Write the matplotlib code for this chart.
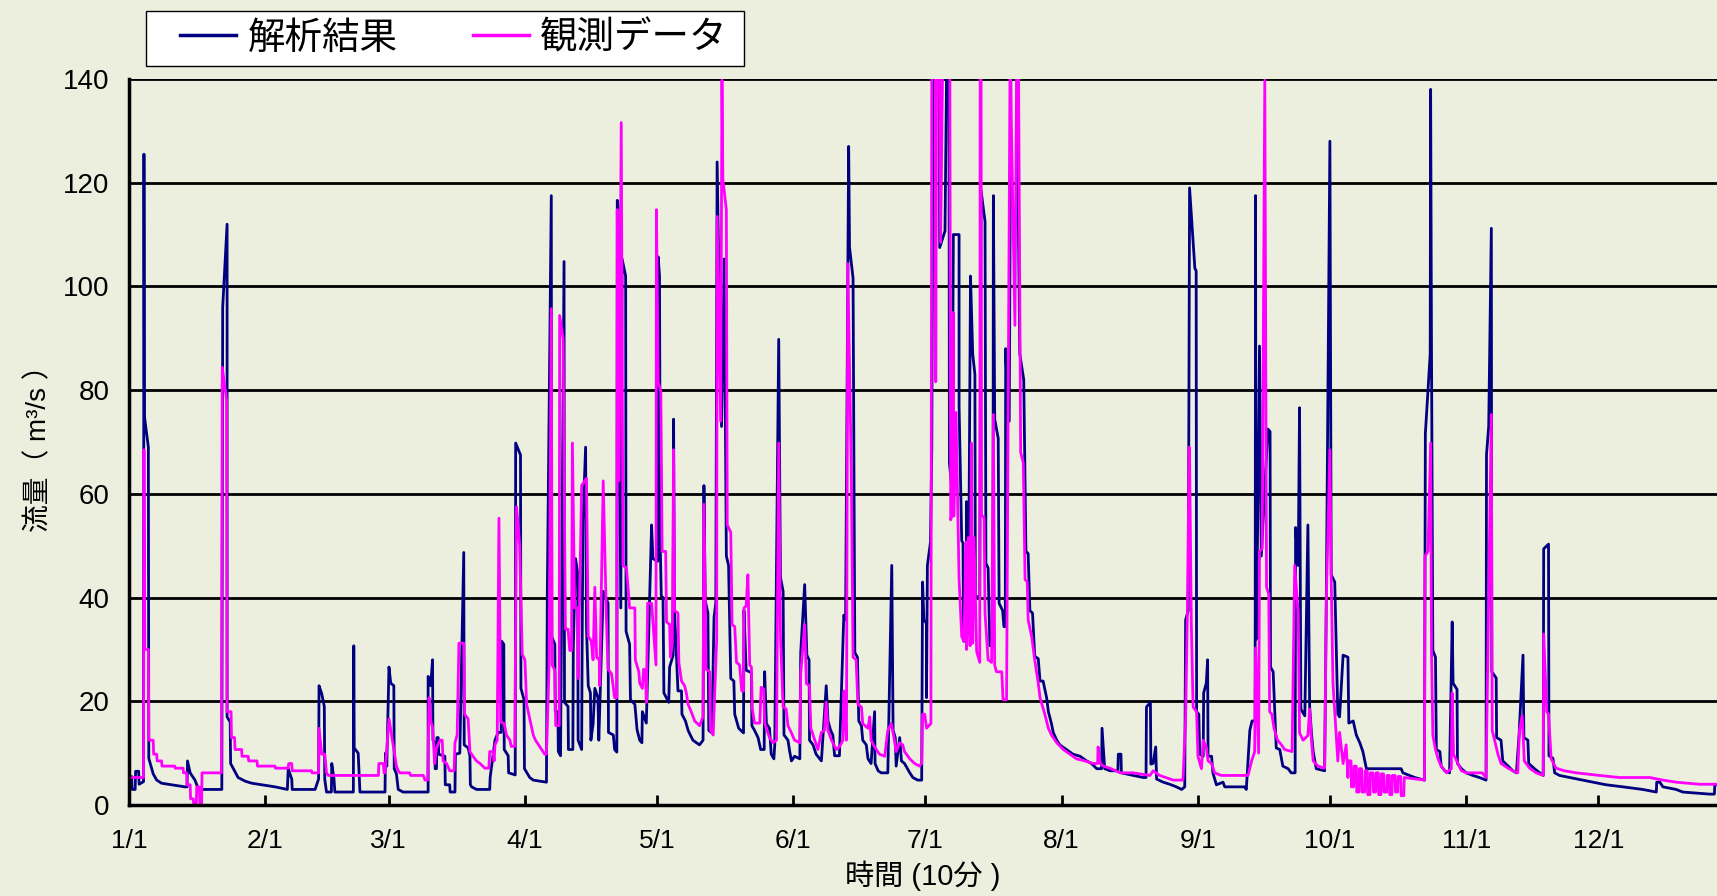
import numpy as np
import matplotlib
matplotlib.use("Agg")
import matplotlib.pyplot as plt
from matplotlib.lines import Line2D
from matplotlib.patches import Rectangle

plt.rcParams['font.family'] = ['Liberation Sans', 'Noto Sans CJK JP', 'DejaVu Sans']

# 流量 (m3/s) at day-of-year breakpoints, 10-minute records thinned to the step changes
sim_q1 = [(0.0, 5.0), (0.6, 5.5), (0.7, 3.0), (1.4, 3.0), (1.5, 6.5), (2.2, 6.5), (2.3, 4.0), (3.3, 4.5),
          (3.4, 125.5), (3.5, 75.0), (4.4, 69.0), (4.5, 9.0), (5.5, 6.0), (6.3, 4.8), (7.4, 4.2), (12.7, 3.5),
          (13.2, 3.5), (13.3, 8.5), (13.9, 6.2), (15.0, 4.8), (15.8, 3.0), (21.1, 3.0), (21.3, 96.0),
          (22.3, 112.0), (22.3, 17.0), (23.0, 16.0), (23.1, 8.0), (24.8, 5.3), (26.4, 4.6), (27.9, 4.2),
          (33.2, 3.5), (36.0, 3.0), (36.2, 7.0), (37.0, 5.0), (37.1, 3.0), (42.3, 3.0), (43.1, 5.0),
          (43.2, 23.0), (43.8, 21.5), (44.4, 19.0), (44.5, 5.0), (44.9, 2.5), (46.0, 2.5), (46.1, 8.0),
          (46.6, 5.0), (46.8, 2.5), (51.0, 2.5), (51.1, 30.7), (51.2, 11.0), (52.1, 10.0), (52.5, 2.5),
          (58.2, 2.5), (58.3, 10.0), (58.6, 7.5), (59.1, 26.6), (59.5, 23.5), (60.2, 23.0), (60.3, 7.0),
          (60.8, 6.0), (61.2, 3.0), (62.3, 2.5), (68.0, 2.5), (68.0, 24.8), (68.6, 23.0), (69.0, 28.0),
          (69.1, 12.5), (69.5, 12.0), (69.6, 7.0), (69.9, 7.0), (70.0, 13.0), (70.3, 13.0), (70.4, 9.8),
          (71.8, 9.4), (71.9, 3.9), (72.9, 3.9), (73.0, 2.5), (74.1, 2.5), (74.2, 9.8), (75.2, 10.0),
          (76.1, 48.7), (76.2, 11.6), (77.1, 11.0), (77.5, 9.5), (77.6, 3.9), (77.9, 3.5), (79.0, 3.0),
          (82.0, 3.0), (82.1, 5.3), (83.2, 12.5), (83.9, 14.0), (84.6, 14.0), (84.7, 31.6), (85.2, 31.0),
          (85.3, 10.7), (86.2, 9.5), (86.3, 6.2), (87.8, 5.8), (87.9, 69.8), (89.0, 67.5), (89.1, 22.5),
          (89.8, 20.3), (89.9, 7.0)]
sim_q2 = [(91.1, 5.3), (91.9, 4.8), (94.9, 4.4), (95.1, 41.6), (96.0, 117.5), (96.1, 32.5), (96.8, 31.0),
          (96.9, 18.0), (97.5, 18.0), (97.6, 10.3), (98.1, 9.5), (98.9, 104.8), (99.0, 19.8), (99.8, 19.0),
          (99.9, 10.7), (100.9, 10.7), (101.0, 30.0), (101.5, 47.5), (102.0, 44.8), (102.1, 12.5),
          (102.9, 10.7), (103.0, 29.0), (103.2, 54.8), (103.8, 69.0), (104.0, 34.4), (104.4, 23.0),
          (104.9, 21.6), (105.0, 12.5), (105.5, 15.6), (105.9, 22.5), (106.6, 20.7), (106.8, 12.5),
          (107.8, 41.2), (108.9, 38.9), (109.0, 14.0), (110.1, 13.5), (110.4, 10.7), (110.9, 10.2),
          (111.0, 116.6), (111.2, 115.5), (111.8, 38.0), (112.1, 105.3), (112.9, 102.0), (113.0, 33.5),
          (113.8, 31.0), (114.0, 20.3), (115.0, 19.4), (115.5, 14.5), (116.1, 12.5), (116.6, 12.0),
          (116.7, 18.0), (117.6, 15.8), (118.8, 54.0), (119.1, 47.5), (120.2, 47.0), (120.3, 105.7),
          (120.6, 102.0), (120.8, 48.9), (121.0, 40.3), (121.4, 40.0), (121.6, 21.6), (122.7, 19.8),
          (122.9, 26.6), (123.7, 28.9), (123.8, 74.4), (124.0, 37.5), (124.8, 22.0), (125.6, 22.0),
          (125.7, 17.5), (126.5, 16.2), (127.1, 14.4), (127.6, 13.5), (128.2, 12.5), (129.0, 12.0),
          (129.7, 11.6), (130.5, 12.5), (130.7, 61.6), (131.0, 39.4), (131.6, 37.0), (131.8, 14.4),
          (132.5, 13.9), (133.0, 36.2), (133.4, 39.0), (133.7, 124.0), (134.3, 90.8), (134.7, 73.0),
          (135.3, 105.3), (135.8, 48.0), (136.3, 46.2), (136.8, 24.4), (137.5, 23.9), (137.7, 17.5),
          (138.6, 14.8), (139.7, 13.9), (139.8, 37.5), (140.3, 26.0), (141.5, 25.5), (141.6, 15.3),
          (142.2, 14.4), (143.0, 13.0), (143.6, 10.7), (144.4, 10.7), (144.5, 25.7), (144.9, 15.7),
          (145.6, 14.8), (146.0, 9.8), (146.6, 8.9), (146.8, 11.6), (147.7, 89.8), (148.1, 43.9),
          (148.7, 41.2), (148.9, 13.5), (149.8, 12.5), (150.2, 10.3), (150.6, 8.5), (151.3, 9.4),
          (152.5, 8.9), (152.7, 29.4), (153.6, 42.5), (154.1, 28.9), (154.6, 28.0), (154.7, 12.5),
          (155.5, 11.6), (156.2, 9.8), (157.4, 8.5), (158.5, 23.0), (158.9, 16.2), (159.5, 14.4),
          (160.0, 13.5), (160.4, 9.5), (161.5, 9.5), (162.5, 36.6), (162.9, 35.7), (163.6, 127.0),
          (163.8, 107.5), (164.6, 101.6), (165.0, 29.4), (165.6, 28.5), (165.9, 16.2), (166.5, 15.3),
          (166.8, 12.5), (167.6, 11.6), (168.0, 8.9), (168.7, 8.0), (169.5, 18.0), (169.6, 8.0),
          (170.3, 6.6), (171.0, 6.2), (172.5, 6.2), (173.4, 46.2), (173.7, 14.4), (174.2, 13.0),
          (174.4, 7.5), (175.2, 13.0), (175.6, 8.5), (176.3, 8.0), (177.5, 6.2), (178.2, 5.3),
          (179.3, 4.8), (180.2, 4.8)]
sim_q3 = [(180.4, 43.0), (180.7, 35.7), (181.3, 35.0), (181.3, 20.7), (181.5, 46.2), (182.2, 50.7),
          (182.5, 69.0), (182.8, 145.0), (184.2, 145.0), (184.3, 107.5), (185.5, 110.7), (185.9, 145.0),
          (186.4, 145.0), (186.5, 66.0), (187.1, 60.7), (187.4, 110.0), (188.7, 110.0), (188.7, 77.0),
          (189.3, 51.0), (189.6, 50.5), (189.7, 31.6), (190.3, 31.6), (190.4, 58.5), (190.8, 33.0),
          (191.3, 102.0), (191.8, 87.0), (192.3, 83.0), (192.4, 40.3), (193.4, 40.0), (193.7, 118.5),
          (194.6, 112.5), (194.8, 46.6), (195.3, 45.7), (195.7, 30.7), (196.4, 30.7), (196.5, 117.5),
          (196.8, 74.4), (197.6, 70.7), (197.8, 38.9), (198.6, 37.5), (198.9, 34.4), (199.2, 34.4),
          (199.3, 88.0), (199.9, 74.0), (200.1, 74.0), (200.5, 145.0), (201.8, 145.0), (202.5, 87.0),
          (203.4, 82.0), (203.9, 48.9), (204.4, 48.5), (204.8, 37.5), (205.4, 37.0), (205.9, 28.7),
          (206.7, 28.2), (207.1, 23.9), (207.8, 23.9), (208.6, 20.7), (209.0, 18.0), (209.7, 15.7),
          (210.1, 14.0), (210.9, 12.5), (211.6, 11.6), (213.1, 10.7), (214.6, 9.8), (216.2, 9.4),
          (217.7, 8.5), (218.8, 8.0), (220.0, 7.0), (221.1, 7.0), (221.2, 14.8), (221.8, 7.0),
          (223.0, 6.6), (224.8, 6.6), (224.9, 9.8), (225.5, 9.8), (225.6, 6.2), (228.3, 5.7),
          (230.6, 5.3), (231.2, 5.3), (231.3, 18.9), (232.2, 19.8), (232.3, 7.9), (232.8, 8.0),
          (233.4, 11.2), (233.6, 5.0), (235.1, 4.4), (236.6, 4.0), (238.1, 3.5), (239.3, 3.0),
          (240.0, 3.5), (240.2, 35.7), (240.8, 37.5), (241.1, 119.0), (242.3, 103.5), (242.6, 103.0),
          (242.7, 18.0), (243.2, 17.5), (243.4, 9.8), (244.2, 9.4), (244.3, 21.6), (244.9, 23.5),
          (245.2, 28.0), (245.3, 9.4), (246.1, 9.4), (246.4, 6.2), (247.2, 3.9), (248.7, 4.4),
          (249.1, 3.5), (253.6, 3.5), (254.0, 3.0), (254.8, 14.4), (255.3, 16.2), (256.0, 16.2),
          (256.1, 117.5), (256.2, 32.0), (256.3, 32.0), (257.0, 88.5), (257.4, 48.0), (258.9, 72.5),
          (259.4, 72.0), (259.5, 26.6), (260.1, 25.7), (260.8, 11.0), (261.6, 10.7), (262.3, 7.5),
          (263.5, 7.0), (264.2, 6.2), (265.1, 6.2), (265.2, 53.5), (265.8, 46.2), (266.1, 76.6),
          (266.4, 18.5), (267.3, 17.2), (268.0, 54.0), (268.4, 18.9), (268.8, 14.0), (269.2, 10.3),
          (269.9, 7.0), (271.8, 6.6), (272.2, 41.2)]
sim_q4 = [(273.0, 128.0), (273.3, 44.4), (274.1, 43.0), (274.8, 17.5), (275.2, 17.0), (276.0, 28.9),
          (277.1, 28.5), (277.3, 15.8), (278.3, 16.2), (279.0, 13.5), (279.8, 12.0), (280.5, 10.3),
          (281.3, 7.0), (289.2, 7.0), (289.6, 6.2), (292.3, 5.3), (294.5, 4.8), (294.7, 71.6),
          (295.8, 87.0), (295.9, 138.0), (296.1, 87.0), (296.4, 29.8), (297.0, 28.5), (297.2, 10.7),
          (298.0, 10.3), (298.3, 7.5), (299.1, 6.6), (300.2, 6.2), (300.8, 35.3), (301.0, 23.5),
          (301.9, 22.3), (302.0, 8.0), (302.9, 7.0), (304.0, 6.2), (305.5, 5.7), (307.0, 5.3),
          (308.5, 4.8), (308.6, 67.5), (309.1, 73.0), (309.7, 111.2), (309.8, 25.7), (310.8, 24.5),
          (310.9, 13.0), (311.9, 12.5), (312.3, 8.5), (313.5, 7.5), (314.6, 6.6), (315.4, 6.2),
          (316.0, 13.5), (316.9, 28.9), (317.1, 13.0), (318.0, 12.5), (318.2, 8.0), (319.5, 7.0),
          (320.7, 6.2), (321.5, 5.7), (321.6, 49.4), (322.7, 50.3), (322.8, 9.5), (323.7, 9.0),
          (324.1, 6.2), (325.2, 5.7), (327.5, 5.3), (330.5, 4.8), (332.8, 4.4), (335.8, 3.9),
          (339.6, 3.5), (344.1, 3.0), (347.2, 2.5), (347.3, 4.4), (348.0, 4.4), (348.7, 3.5),
          (351.7, 3.0), (353.2, 2.5), (359.3, 2.1), (360.4, 2.1), (360.5, 3.9), (362.0, 3.9)]

obs_q1 = [(0.0, 5.3), (3.3, 5.3), (3.4, 68.5), (3.6, 30.0), (4.4, 30.0), (4.5, 12.5), (5.5, 12.5),
          (5.6, 9.8), (6.3, 9.8), (6.4, 8.5), (7.4, 8.5), (7.5, 7.5), (10.4, 7.5), (10.5, 7.1), (12.3, 7.1),
          (12.4, 6.2), (13.1, 6.2), (13.2, 3.9), (13.9, 3.9), (14.0, 1.2), (14.6, 1.2), (14.7, 0.3),
          (15.3, 0.3), (15.4, 3.5), (16.0, 3.5), (16.1, 0.0), (16.5, 0.0), (16.6, 6.2), (21.0, 6.2),
          (21.2, 84.4), (22.2, 78.0), (22.3, 18.0), (23.2, 18.0), (23.3, 13.0), (24.0, 13.0), (24.1, 10.7),
          (25.6, 10.7), (25.7, 9.4), (27.1, 9.4), (27.2, 8.5), (29.1, 8.5), (29.2, 7.5), (33.2, 7.5),
          (33.3, 7.1), (36.2, 7.1), (36.3, 8.0), (37.0, 8.0), (37.1, 6.6), (41.5, 6.6), (41.6, 6.2),
          (43.1, 6.2), (43.2, 14.8), (43.8, 9.8), (44.5, 9.8), (44.9, 6.2), (45.3, 5.7), (56.7, 5.7),
          (56.8, 8.0), (57.8, 8.0), (58.0, 6.2), (58.2, 6.2), (59.1, 16.6), (59.7, 13.5), (60.2, 10.7),
          (60.8, 7.5), (61.2, 6.6), (61.6, 6.2), (63.8, 6.2), (64.0, 5.7), (66.9, 5.7), (67.3, 4.8),
          (67.9, 4.8), (68.2, 20.7), (68.6, 16.2), (69.0, 15.0), (69.5, 8.0), (69.9, 11.0), (70.7, 12.5),
          (71.2, 12.5), (71.4, 8.5), (72.2, 8.0), (72.9, 6.6), (73.9, 6.6), (74.1, 12.0), (74.6, 13.5),
          (75.0, 31.2), (76.1, 31.2), (76.3, 17.5), (77.1, 16.6), (77.5, 10.3), (78.2, 9.4), (79.0, 8.5),
          (79.8, 8.0), (80.9, 7.1), (81.8, 7.1), (82.0, 10.3), (82.8, 10.3), (83.0, 8.5), (83.2, 11.6),
          (83.7, 12.5), (84.1, 55.3), (84.5, 16.0), (85.3, 15.7), (85.8, 13.5), (86.6, 12.5),
          (86.9, 11.3), (87.7, 11.3), (88.1, 57.5), (88.8, 50.3), (89.4, 29.0), (90.0, 28.0)]
obs_q2 = [(90.4, 19.4), (91.1, 16.6), (91.9, 13.5), (92.4, 12.5), (93.8, 10.7), (94.5, 9.8), (94.9, 9.8),
          (95.5, 27.0), (96.0, 95.7), (96.2, 27.0), (96.8, 26.0), (97.0, 15.3), (97.8, 15.3), (97.9, 94.4),
          (98.7, 89.8), (99.2, 33.9), (99.8, 33.9), (100.2, 29.8), (100.6, 29.8), (100.8, 69.8),
          (101.3, 38.0), (102.0, 38.0), (102.1, 24.4), (102.9, 61.6), (104.0, 63.0), (104.4, 32.5),
          (105.1, 31.6), (105.5, 28.0), (105.9, 42.0), (106.3, 28.5), (106.9, 28.0), (107.0, 23.0),
          (107.8, 62.5), (108.5, 37.0), (108.9, 26.2), (109.7, 25.3), (110.4, 20.7), (110.9, 20.7),
          (111.0, 114.8), (111.4, 62.5), (111.9, 131.6), (112.3, 46.2), (113.1, 45.7), (113.8, 38.0),
          (115.0, 38.0), (115.1, 28.0), (115.9, 25.7), (116.1, 23.5), (116.7, 22.5), (117.0, 26.2),
          (117.4, 25.7), (117.6, 19.8), (117.9, 38.9), (118.8, 38.9), (119.8, 27.0), (119.9, 114.8),
          (120.3, 81.6), (120.9, 79.8), (121.2, 48.9), (122.0, 48.9), (122.2, 35.3), (122.9, 34.8),
          (123.1, 28.5), (123.5, 31.0), (123.8, 68.5), (124.0, 37.5), (124.8, 37.0), (125.0, 27.5),
          (125.6, 23.9), (126.3, 23.0), (126.7, 21.6), (127.1, 19.4), (127.8, 18.0), (128.6, 16.2),
          (129.7, 15.3), (130.5, 17.0), (130.7, 58.0), (131.2, 26.2), (132.0, 25.7), (132.2, 14.4),
          (132.8, 13.5), (133.6, 32.0), (133.7, 113.5), (134.5, 74.0), (134.8, 139.8), (135.0, 120.7),
          (135.8, 114.8), (136.0, 54.0), (136.8, 52.6), (137.1, 34.8), (137.7, 34.4), (138.1, 27.5),
          (138.8, 27.0), (139.3, 22.0), (139.7, 22.0), (139.8, 38.0), (140.3, 38.4), (140.7, 44.4),
          (141.1, 27.0), (141.5, 26.6), (141.7, 18.5), (142.2, 15.8), (143.4, 15.8), (143.7, 22.7),
          (144.3, 22.3), (144.5, 15.8), (145.6, 13.0), (146.4, 12.0), (147.2, 12.5), (147.7, 69.8),
          (148.1, 32.5), (148.7, 18.9), (149.4, 18.5), (149.8, 15.3), (150.6, 13.9), (151.3, 12.5),
          (152.5, 12.0), (152.7, 25.3), (153.6, 34.8), (154.0, 23.4), (154.7, 23.0), (155.0, 14.8),
          (155.9, 12.5), (156.6, 10.7), (157.4, 14.0), (158.1, 14.4), (158.5, 19.8), (158.9, 14.4),
          (159.7, 12.5), (160.8, 10.7), (161.5, 11.2), (162.3, 12.5), (162.5, 22.0), (163.1, 12.5),
          (163.4, 104.4), (164.2, 64.4), (164.6, 28.5), (165.3, 28.0), (165.7, 19.4), (166.5, 18.9),
          (166.8, 15.7), (168.0, 14.8), (168.4, 17.0), (168.7, 12.5), (169.5, 11.2), (170.6, 9.8),
          (171.8, 9.4), (172.5, 14.4), (173.3, 15.7), (173.9, 13.0), (174.4, 10.3), (175.2, 12.0),
          (175.9, 11.6), (176.3, 10.3), (177.5, 8.9), (178.6, 8.0), (179.7, 7.5), (180.2, 8.0)]
obs_q3 = [(180.4, 17.5), (180.9, 17.5), (181.3, 14.8), (182.3, 15.7), (182.5, 145.0), (183.3, 145.0),
          (183.4, 81.6), (183.6, 145.0), (184.2, 145.0), (184.5, 108.5), (185.0, 145.0), (186.6, 145.0),
          (186.8, 55.0), (187.0, 55.7), (187.4, 95.0), (187.5, 55.7), (188.0, 75.7), (188.7, 43.5),
          (189.3, 32.5), (189.8, 31.6), (190.3, 50.7), (190.4, 30.0), (190.8, 51.6), (191.2, 30.7),
          (191.5, 69.8), (191.8, 31.2), (192.1, 51.6), (192.7, 29.6), (193.4, 27.5), (193.5, 145.0),
          (193.7, 145.0), (193.8, 56.0), (194.4, 55.3), (194.6, 37.0), (195.3, 28.0), (196.1, 27.5),
          (196.5, 75.3), (196.8, 27.0), (197.2, 25.7), (198.4, 25.7), (198.7, 20.3), (199.5, 20.3),
          (200.3, 145.0), (201.4, 92.5), (201.8, 145.0), (202.2, 145.0), (202.7, 68.0), (203.3, 66.0),
          (203.7, 43.5), (204.2, 43.0), (204.4, 35.7), (205.2, 32.5), (205.9, 28.0), (206.7, 23.5),
          (207.1, 20.7), (208.2, 17.5), (209.0, 14.8), (209.7, 13.5), (210.9, 12.0), (212.4, 10.7),
          (213.9, 9.8), (215.4, 8.9), (217.3, 8.5), (219.2, 8.0), (220.2, 8.0), (220.3, 11.2),
          (220.8, 8.0), (221.5, 7.5), (223.0, 7.1), (225.3, 6.2), (228.3, 6.2), (232.1, 5.7),
          (232.8, 6.6), (234.3, 5.7), (237.4, 4.8), (239.6, 4.8), (240.2, 16.6), (240.6, 37.0),
          (241.0, 69.0), (241.1, 67.0), (241.5, 34.8), (241.9, 18.9), (242.7, 18.0), (243.0, 9.4),
          (243.8, 7.0), (244.2, 12.5), (244.9, 11.2), (245.3, 8.5), (246.1, 8.0), (246.8, 6.2),
          (248.3, 5.7), (254.4, 5.7), (255.2, 8.5), (255.9, 10.3), (256.1, 30.3), (256.8, 10.0),
          (257.0, 48.9), (257.6, 49.4), (258.2, 139.8), (258.6, 42.0), (259.1, 40.6), (259.3, 18.0),
          (259.8, 17.5), (260.3, 14.8), (261.1, 12.5), (262.0, 11.6), (262.7, 10.7), (264.4, 10.3),
          (265.0, 46.2), (265.8, 37.0), (266.1, 13.9), (266.9, 12.5), (268.0, 13.4), (268.4, 18.5),
          (268.8, 12.5), (269.2, 8.5), (270.3, 7.5), (271.8, 7.1), (272.2, 39.8)]
obs_q4 = [(273.0, 68.5), (273.3, 43.5), (273.7, 23.5), (274.5, 12.5), (274.8, 8.5), (275.2, 14.0),
          (276.0, 8.0), (276.7, 11.6), (277.1, 5.3), (277.2, 8.5), (277.8, 8.5), (277.9, 3.5), (278.4, 3.5),
          (278.5, 7.5), (279.0, 7.5), (279.1, 2.5), (279.6, 2.5), (279.7, 7.0), (280.2, 7.0), (280.3, 2.5),
          (280.9, 2.5), (281.0, 6.6), (281.5, 6.6), (281.6, 2.0), (282.1, 2.0), (282.2, 6.2), (282.8, 6.2),
          (282.9, 2.5), (283.4, 2.5), (283.5, 6.2), (284.0, 6.2), (284.1, 2.0), (284.6, 2.0), (284.7, 6.0),
          (285.2, 6.0), (285.3, 2.5), (285.9, 2.5), (286.0, 5.7), (286.5, 5.7), (286.6, 2.0), (287.1, 2.0),
          (287.2, 5.7), (287.8, 5.7), (287.9, 2.5), (288.4, 2.5), (288.5, 5.5), (289.1, 5.5), (289.2, 1.8),
          (289.8, 1.8), (289.9, 5.3), (294.5, 4.8), (294.6, 48.0), (295.3, 48.9), (295.9, 69.8),
          (296.1, 29.8), (296.4, 13.5), (297.0, 10.7), (297.6, 8.9), (298.3, 7.5), (299.5, 6.2),
          (300.6, 7.0), (300.8, 21.6), (301.1, 9.8), (302.1, 8.0), (302.9, 6.6), (304.0, 6.2),
          (307.6, 6.2), (308.5, 5.3), (309.7, 75.3), (309.9, 14.4), (311.2, 9.8), (311.9, 8.0),
          (313.5, 7.1), (314.6, 6.6), (315.7, 6.2), (316.1, 14.4), (316.7, 17.2), (317.2, 8.5),
          (318.4, 7.1), (319.9, 6.2), (321.5, 5.7), (321.6, 33.0), (322.3, 18.0), (322.7, 17.5),
          (323.3, 8.9), (324.4, 7.1), (326.3, 6.6), (329.0, 6.2), (334.3, 5.7), (338.8, 5.3),
          (345.7, 5.3), (348.7, 4.8), (351.7, 4.4), (357.0, 4.0), (362.0, 4.0)]

month_days = [0, 31, 59, 90, 120, 151, 181, 212, 243, 273, 304, 334]
month_labels = ['1/1', '2/1', '3/1', '4/1', '5/1', '6/1', '7/1', '8/1', '9/1', '10/1', '11/1', '12/1']
series_labels = ['解析結果', '観測データ']

sim = np.array(sim_q1 + sim_q2 + sim_q3 + sim_q4)
obs = np.array(obs_q1 + obs_q2 + obs_q3 + obs_q4)

bg = '#ECEEDE'
navy = '#000080'
magenta = '#FF00FF'
W, H = 1717, 896

fig = plt.figure(figsize=(W / 100, H / 100), dpi=100, facecolor=bg)
ax = fig.add_axes([129 / W, 1 - 805 / H, 1 - 129 / W, (805 - 79) / H], facecolor=bg)

ax.plot(sim[:, 0], sim[:, 1], color=navy, lw=2.0, zorder=3)
ax.plot(obs[:, 0], obs[:, 1], color=magenta, lw=2.0, zorder=4)

ax.set_xlim(0, 361)
ax.set_ylim(0, 140)
ax.set_yticks(np.arange(0, 141, 20))
ax.set_xticks(month_days)
ax.set_xticklabels(month_labels)
ax.yaxis.grid(True, color='black', lw=2.0)
ax.set_axisbelow(True)

for side in ['top', 'right']:
    ax.spines[side].set_visible(False)
for side in ['left', 'bottom']:
    ax.spines[side].set_linewidth(2.5)
    ax.spines[side].set_zorder(5)

ax.tick_params(axis='x', direction='in', length=7, width=2, labelsize=19, pad=17)
ax.tick_params(axis='y', length=0, labelsize=20, pad=14)

ax.set_xlabel('時間 (10分 )', fontsize=21, labelpad=6)
ax.set_ylabel('流量（ m³/s ）', fontsize=20, labelpad=8)

# legend box drawn separately so its padding can be set on each side
fig.patches.append(Rectangle((146 / W, 1 - 66 / H), (744 - 146) / W, (66 - 11) / H,
                             transform=fig.transFigure, facecolor='white', edgecolor='black',
                             lw=1.0, zorder=1))
handles = [Line2D([], [], color=navy, lw=2.5), Line2D([], [], color=magenta, lw=2.5)]
leg = fig.legend(handles, series_labels, loc='center left', bbox_to_anchor=(180 / W, 1 - 38.5 / H),
                 ncol=2, fontsize=27, frameon=False, handlelength=1.5, handletextpad=0.3,
                 columnspacing=2.0, borderpad=0, borderaxespad=0)
leg.set_zorder(2)

fig.savefig('out.png', dpi=100, facecolor=bg)
